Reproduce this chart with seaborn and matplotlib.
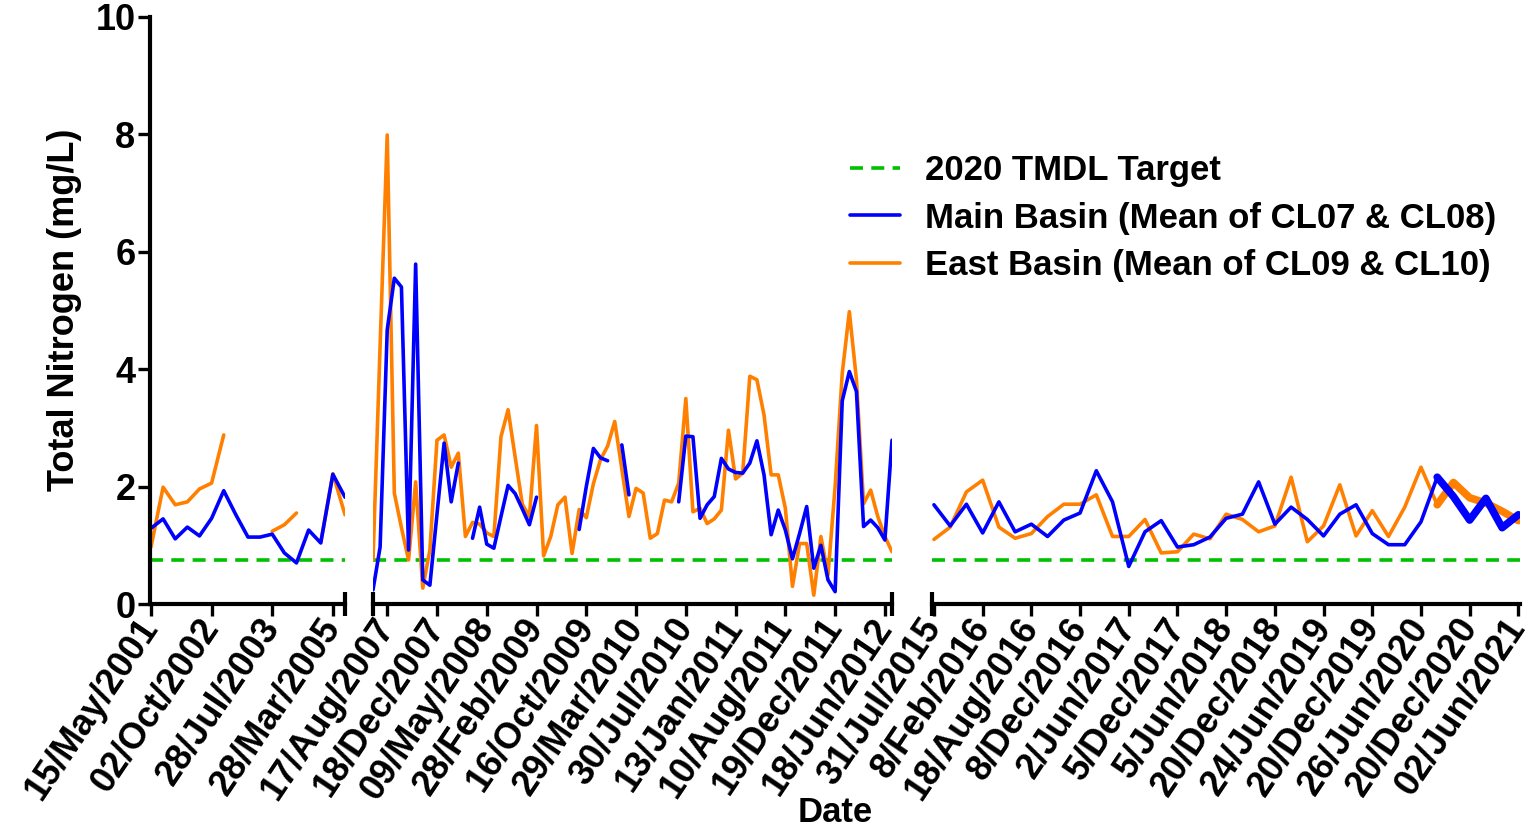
import numpy as np
import pandas as pd
import matplotlib
matplotlib.use("Agg")
import matplotlib.pyplot as plt
import seaborn as sns
from matplotlib.lines import Line2D

nan = np.nan

# TMDL target (mg/L)
tmdl_target = 0.75

# segment 1: 2001 - 2005
seg1_main = [1.29, 1.45, 1.11, 1.31, 1.16, 1.46, 1.93, 1.52, 1.14, 1.14,
             1.19, 0.87, 0.70, 1.26, 1.04, 2.21, 1.82]
seg1_east = [0.97, 1.99, 1.69, 1.74, 1.96, 2.06, 2.88, nan, nan, nan,
             1.24, 1.35, 1.55, nan, 1.05, 2.22, 1.52]
seg1_ticks = [0, 5, 10, 15]
seg1_labels = ["15/May/2001", "02/Oct/2002", "28/Jul/2003", "28/Mar/2005"]

# segment 2: 2007 - 2012
seg2_main = [0.24, 0.97, 4.67, 5.55, 5.40, 0.92, 5.79, 0.41, 0.32, 1.53,
             2.74, 1.74, 2.40, nan, 1.12, 1.65, 1.02, 0.95, 1.49, 2.02,
             1.88, 1.62, 1.35, 1.82, nan, nan, nan, nan, nan, 1.27,
             2.00, 2.65, 2.49, 2.44, nan, 2.71, 1.86, nan, nan, nan,
             nan, nan, nan, 1.74, 2.86, 2.85, 1.46, 1.69, 1.83, 2.48,
             2.30, 2.24, 2.23, 2.40, 2.78, 2.20, 1.18, 1.60, 1.26, 0.77,
             1.20, 1.66, 0.61, 1.00, 0.41, 0.21, 3.46, 3.96, 3.62, 1.32,
             1.43, 1.30, 1.09, 2.79]
seg2_east = [0.75, 4.40, 7.99, 1.89, 1.30, 0.75, 2.08, 0.27, 0.92, 2.79,
             2.88, 2.33, 2.57, 1.15, 1.39, 1.36, 1.21, 1.15, 2.85, 3.31,
             2.50, 1.70, 1.49, 3.04, 0.82, 1.15, 1.69, 1.82, 0.86, 1.61,
             1.47, 2.05, 2.46, 2.69, 3.11, 2.30, 1.49, 1.97, 1.89, 1.12,
             1.20, 1.77, 1.74, 2.06, 3.50, 1.57, 1.63, 1.37, 1.45, 1.60,
             2.96, 2.13, 2.23, 3.88, 3.82, 3.22, 2.20, 2.20, 1.63, 0.30,
             1.03, 1.03, 0.15, 1.15, 0.50, 2.00, 3.93, 4.98, 3.82, 1.71,
             1.94, 1.49, 1.15, 0.89]
seg2_ticks = [2, 9, 16, 23, 30, 37, 44, 51, 58, 65, 72]
seg2_labels = ["17/Aug/2007", "18/Dec/2007", "09/May/2008", "28/Feb/2009",
               "16/Oct/2009", "29/Mar/2010", "30/Jul/2010", "13/Jan/2011",
               "10/Aug/2011", "19/Dec/2011", "18/Jun/2012"]

# segment 3: 2015 - 2021
seg3_main = [1.69, 1.33, 1.70, 1.21, 1.74, 1.23, 1.36, 1.15, 1.43, 1.55,
             2.27, 1.74, 0.64, 1.23, 1.42, 0.97, 1.01, 1.14, 1.46, 1.53,
             2.08, 1.36, 1.65, 1.44, 1.16, 1.53, 1.69, 1.20, 1.01, 1.01,
             1.40, 2.16, 1.83, 1.43, 1.80, 1.30, 1.52]
seg3_east = [1.10, 1.31, 1.91, 2.11, 1.31, 1.12, 1.20, 1.49, 1.70, 1.70,
             1.86, 1.15, 1.15, 1.44, 0.87, 0.89, 1.19, 1.11, 1.53, 1.44,
             1.23, 1.33, 2.16, 1.06, 1.33, 2.03, 1.16, 1.59, 1.15, 1.65,
             2.33, 1.69, 2.07, 1.81, 1.72, 1.58, 1.42]
seg3_ticks = list(range(0, 37, 3))
seg3_labels = ["31/Jul/2015", "8/Feb/2016", "18/Aug/2016", "8/Dec/2016",
               "2/Jun/2017", "5/Dec/2017", "5/Jun/2018", "20/Dec/2018",
               "24/Jun/2019", "20/Dec/2019", "26/Jun/2020", "20/Dec/2020",
               "02/Jun/2021"]
seg3_dense_start = 31  # last samples drawn heavier

main_label = "Main Basin (Mean of CL07 & CL08)"
east_label = "East Basin (Mean of CL09 & CL10)"
tmdl_label = "2020 TMDL Target"

BLUE = "#0000FF"
ORANGE = "#FF8000"
GREEN = "#00C000"
palette = {"East": ORANGE, "Main": BLUE}
LW = 2.6
DASH = (3.6, 2.3)


def to_long(main, east):
    frames = []
    for name, vals in [("East", east), ("Main", main)]:
        s = pd.Series(vals, dtype=float)
        run = s.isna().cumsum()
        df = pd.DataFrame({"idx": np.arange(len(s)), "value": s,
                           "series": name, "run": name + run.astype(str)})
        frames.append(df.dropna())
    return pd.concat(frames, ignore_index=True)


sns.set_theme(style="ticks")
plt.rcParams["font.family"] = ["Liberation Sans", "DejaVu Sans"]
plt.rcParams["font.weight"] = "bold"
for key in ["text.color", "axes.labelcolor", "xtick.color", "ytick.color",
            "axes.edgecolor"]:
    plt.rcParams[key] = "black"

W, H = 1532, 831
fig = plt.figure(figsize=(W / 100, H / 100), dpi=100)
bottom = 1 - 604 / H
height = (604 - 17) / H
ax1 = fig.add_axes([150 / W, bottom, 195 / W, height])
ax2 = fig.add_axes([373 / W, bottom, 519 / W, height])
ax3 = fig.add_axes([932 / W, bottom, 588 / W, height])

segments = [
    (ax1, seg1_main, seg1_east, seg1_ticks, seg1_labels, (-0.08, 16.0)),
    (ax2, seg2_main, seg2_east, seg2_ticks, seg2_labels, (0, 73)),
    (ax3, seg3_main, seg3_east, seg3_ticks, seg3_labels, (-0.12, 36.1)),
]

for ax, main, east, ticks, labels, xlim in segments:
    ax.axhline(tmdl_target, color=GREEN, lw=LW, dashes=DASH, zorder=1)
    df = to_long(main, east)
    sns.lineplot(data=df, x="idx", y="value", hue="series", units="run",
                 estimator=None, palette=palette, hue_order=["East", "Main"],
                 lw=LW, legend=False, ax=ax, zorder=2)
    ax.set_xlim(*xlim)
    ax.set_ylim(0, 10)
    ax.set_xticks(ticks)
    ax.set_xticklabels(labels, rotation=56, ha="right", va="center",
                       rotation_mode="anchor", fontsize=26, fontweight="bold")
    ax.set_xlabel("")
    ax.set_ylabel("")
    ax.tick_params(axis="x", length=8.5, width=2.4, pad=4)
    for side in ["top", "right"]:
        ax.spines[side].set_visible(False)
    ax.spines["bottom"].set_linewidth(3)

# heavy overlap at the end of segment 3
df3 = to_long(seg3_main, seg3_east)
dense = df3[df3["idx"] >= seg3_dense_start]
sns.lineplot(data=dense, x="idx", y="value", hue="series", units="run",
             estimator=None, palette=palette, hue_order=["East", "Main"],
             lw=5.5, legend=False, ax=ax3, zorder=3,
             solid_capstyle="round", solid_joinstyle="round")
ax3.set_xlabel("")
ax3.set_ylabel("")

# y axis only on first segment
ax1.set_yticks([0, 2, 4, 6, 8, 10])
ax1.set_yticklabels(["0", "2", "4", "6", "8", "10"], fontsize=26, fontweight="bold")
ax1.tick_params(axis="y", length=8.5, width=2.4, pad=2)
ax1.spines["left"].set_linewidth(3)
for ax in (ax2, ax3):
    ax.spines["left"].set_visible(False)
    ax.set_yticks([])

# axis break marks
for ax, xpos in [(ax1, 1.0), (ax2, 0.0), (ax2, 1.0), (ax3, 0.0)]:
    ax.plot([xpos, xpos], [-0.02, 0.02], transform=ax.transAxes,
            color="black", lw=3, clip_on=False, solid_capstyle="butt")

fig.text(65 / W, 1 - 310 / H, "Total Nitrogen (mg/L)", rotation=90,
         ha="center", va="center", fontsize=26, fontweight="bold")
fig.text(835 / W, 1 - 812 / H, "Date", ha="center", va="center",
         fontsize=25, fontweight="bold")

handles = [
    Line2D([], [], color=GREEN, lw=LW, dashes=DASH),
    Line2D([], [], color=BLUE, lw=LW),
    Line2D([], [], color=ORANGE, lw=LW),
]
fig.legend(handles, [tmdl_label, main_label, east_label], loc="upper left",
           bbox_to_anchor=(850 / W, 1 - 154 / H), frameon=False,
           prop={"size": 25, "weight": "bold"}, handlelength=1.44,
           handletextpad=0.72, labelspacing=0.42, borderpad=0,
           borderaxespad=0)

fig.savefig("out.png", dpi=100)
